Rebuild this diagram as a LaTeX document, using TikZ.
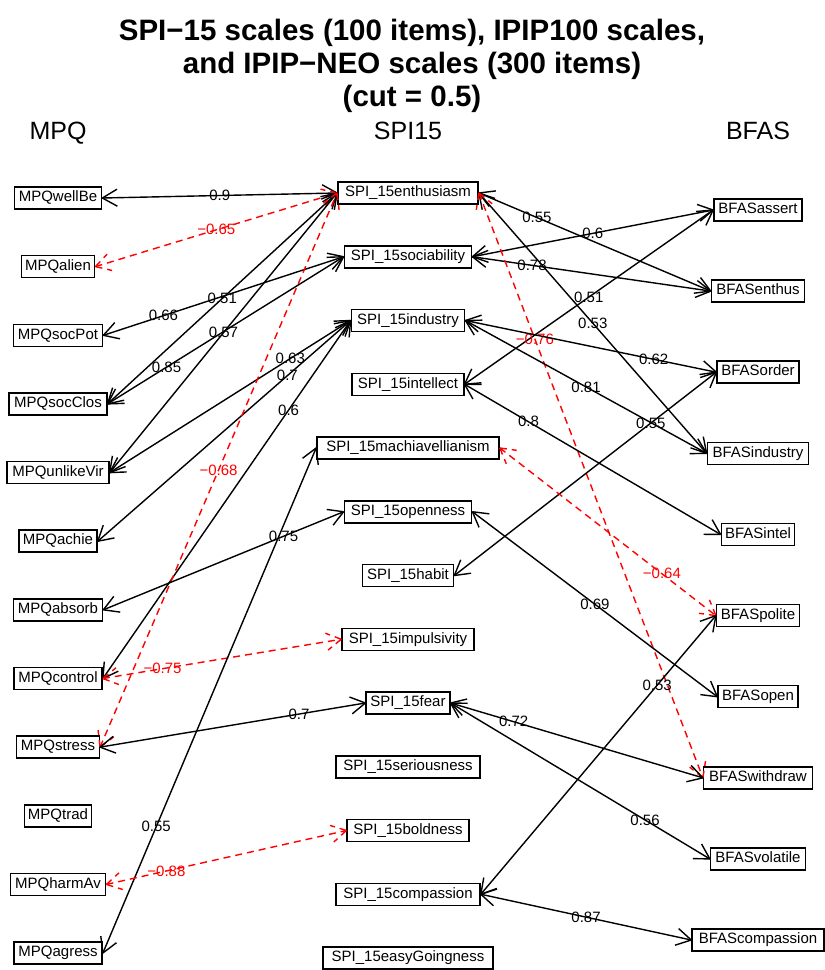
\documentclass[tikz,border=0pt]{standalone}
\usepackage{fontspec}
\setmainfont{Liberation Sans}
\usetikzlibrary{calc}

\newlength\boxw
\newcommand\boxfont{\fontsize{15pt}{18pt}\selectfont}
% box node whose width follows its text: #1 name, #2 position, #3 text
\newcommand\bx[3]{%
  \pgfinterruptpicture\global\setbox1=\hbox{\boxfont #3}\endpgfinterruptpicture
  \global\boxw=1.115\wd1
  \node[varbox,minimum width=\the\boxw] (#1) at (#2) {#3};}
% two-headed connector: #1 from, #2 to, #3 label, #4 label position, #5 style
\newcommand\edge[5]{%
  \draw[#5] (#1) -- node[lbl,pos=#4] {#3} (#2);
  \draw[#5] (#1) -- ($(#1)!17pt!30:(#2)$);
  \draw[#5] (#1) -- ($(#1)!17pt!-30:(#2)$);
  \draw[#5] (#2) -- ($(#2)!17pt!30:(#1)$);
  \draw[#5] (#2) -- ($(#2)!17pt!-30:(#1)$);}

\tikzset{
  varbox/.style={draw=black, line width=1.5pt, fill=white, font=\boxfont,
    inner xsep=0pt, inner ysep=3.75pt, text height=11pt, text depth=3.5pt},
  lbl/.style={font=\boxfont, inner sep=0pt},
  posedge/.style={black, line width=1.4pt},
  negedge/.style={red, line width=1.4pt, dash pattern=on 7pt off 5pt},
  heading/.style={font=\fontsize{25pt}{30pt}\selectfont, anchor=base},
  titleline/.style={font=\fontsize{29.5pt}{34pt}\selectfont\bfseries, anchor=base}
}

\begin{document}
\begin{tikzpicture}[x=1pt,y=-1pt]
\useasboundingbox (0,0) rectangle (825,970);

% title and column headings
\node[titleline] (t1) at (412,40) {SPI−15 scales (100 items), IPIP100 scales,};
\node[titleline] (t2) at (412,73) {and IPIP−NEO scales (300 items)};
\node[titleline] (t3) at (412,106) {(cut = 0.5)};
\node[heading] (hmpq) at (58,139) {MPQ};
\node[heading] (hspi) at (408,139) {SPI15};
\node[heading] (hbfas) at (758,139) {BFAS};

% MPQ column
\bx{wellbe}{58,198}{MPQwellBe}
\bx{alien}{58,266.6}{MPQalien}
\bx{socpot}{58,335.3}{MPQsocPot}
\bx{socclos}{58,403.9}{MPQsocClos}
\bx{unlike}{58,472.6}{MPQunlikeVir}
\bx{achie}{58,541.2}{MPQachie}
\bx{absorb}{58,609.8}{MPQabsorb}
\bx{control}{58,678.5}{MPQcontrol}
\bx{stress}{58,747.1}{MPQstress}
\bx{trad}{58,815.8}{MPQtrad}
\bx{harmav}{58,884.4}{MPQharmAv}
\bx{agress}{58,953}{MPQagress}

% SPI15 column
\bx{enth}{408,193}{SPI\_15enthusiasm}
\bx{soc}{408,256.75}{SPI\_15sociability}
\bx{ind}{408,320.5}{SPI\_15industry}
\bx{intel}{408,384.25}{SPI\_15intellect}
\bx{mach}{408,448}{SPI\_15machiavellianism}
\bx{open}{408,511.75}{SPI\_15openness}
\bx{habit}{408,575.5}{SPI\_15habit}
\bx{impul}{408,639.25}{SPI\_15impulsivity}
\bx{fear}{408,703}{SPI\_15fear}
\bx{serious}{408,766.75}{SPI\_15seriousness}
\bx{bold}{408,830.5}{SPI\_15boldness}
\bx{comp}{408,894.25}{SPI\_15compassion}
\bx{easy}{408,958}{SPI\_15easyGoingness}

% BFAS column
\bx{bassert}{758,210}{BFASassert}
\bx{benthus}{758,291.1}{BFASenthus}
\bx{border}{758,372.2}{BFASorder}
\bx{bind}{758,453.3}{BFASindustry}
\bx{bintel}{758,534.4}{BFASintel}
\bx{bpolite}{758,615.6}{BFASpolite}
\bx{bopen}{758,696.7}{BFASopen}
\bx{bwith}{758,777.8}{BFASwithdraw}
\bx{bvol}{758,858.9}{BFASvolatile}
\bx{bcomp}{758,940}{BFAScompassion}

% MPQ -- SPI15 links
\edge{wellbe.east}{enth.west}{0.9}{0.5}{posedge}
\edge{alien.east}{enth.west}{−0.65}{0.5}{negedge}
\edge{socpot.east}{soc.west}{0.66}{0.25}{posedge}
\edge{socclos.east}{enth.west}{0.51}{0.5}{posedge}
\edge{socclos.east}{soc.west}{0.85}{0.25}{posedge}
\edge{unlike.east}{enth.west}{0.57}{0.5}{posedge}
\edge{unlike.east}{ind.west}{0.63}{0.75}{posedge}
\edge{achie.east}{ind.west}{0.7}{0.75}{posedge}
\edge{control.east}{ind.west}{0.6}{0.75}{posedge}
\edge{stress.east}{enth.west}{−0.68}{0.5}{negedge}
\edge{absorb.east}{open.west}{0.75}{0.75}{posedge}
\edge{control.east}{impul.west}{−0.75}{0.25}{negedge}
\edge{stress.east}{fear.west}{0.7}{0.75}{posedge}
\edge{agress.east}{mach.west}{0.55}{0.25}{posedge}
\edge{harmav.east}{bold.west}{−0.88}{0.25}{negedge}

% SPI15 -- BFAS links
\edge{enth.east}{benthus.west}{0.55}{0.25}{posedge}
\edge{soc.east}{bassert.west}{0.6}{0.5}{posedge}
\edge{soc.east}{benthus.west}{0.78}{0.25}{posedge}
\edge{intel.east}{bassert.west}{0.51}{0.5}{posedge}
\edge{enth.east}{bind.west}{0.53}{0.5}{posedge}
\edge{enth.east}{bwith.west}{−0.76}{0.25}{negedge}
\edge{ind.east}{border.west}{0.62}{0.75}{posedge}
\edge{ind.east}{bind.west}{0.81}{0.5}{posedge}
\edge{intel.east}{bintel.west}{0.8}{0.25}{posedge}
\edge{habit.east}{border.west}{0.55}{0.75}{posedge}
\edge{mach.east}{bpolite.west}{−0.64}{0.75}{negedge}
\edge{open.east}{bopen.west}{0.69}{0.5}{posedge}
\edge{comp.east}{bpolite.west}{0.53}{0.75}{posedge}
\edge{fear.east}{bwith.west}{0.72}{0.25}{posedge}
\edge{fear.east}{bvol.west}{0.56}{0.75}{posedge}
\edge{comp.east}{bcomp.west}{0.87}{0.5}{posedge}
\end{tikzpicture}
\end{document}
